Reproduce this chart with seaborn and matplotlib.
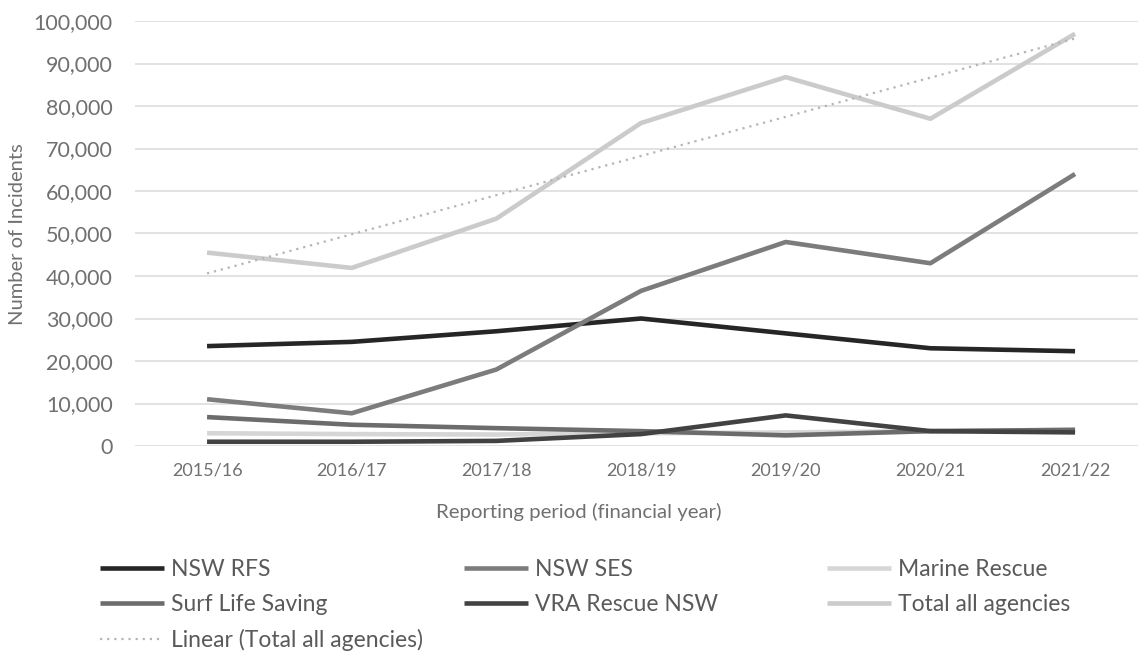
import numpy as np
import pandas as pd
import matplotlib
matplotlib.use("Agg")
import matplotlib.pyplot as plt
import seaborn as sns

periods = ["2015/16", "2016/17", "2017/18", "2018/19", "2019/20", "2020/21", "2021/22"]
nsw_rfs = [23500, 24500, 27000, 30000, 26500, 23000, 22300]
nsw_ses = [11000, 7700, 18000, 36500, 48000, 43000, 64000]
marine_rescue = [3000, 2800, 2700, 3000, 3200, 3500, 3800]
surf_life_saving = [6800, 5000, 4200, 3500, 2500, 3500, 3800]
vra_rescue = [1000, 1000, 1200, 2800, 7200, 3500, 3200]
total_all = [45500, 41900, 53500, 76000, 86800, 77000, 97000]

series_names = ["NSW RFS", "NSW SES", "Marine Rescue", "Surf Life Saving",
                "VRA Rescue NSW", "Total all agencies"]
series_values = [nsw_rfs, nsw_ses, marine_rescue, surf_life_saving, vra_rescue, total_all]
series_colors = ["#262626", "#7c7c7c", "#d6d6d6", "#6c6c6c", "#424242", "#cbcbcb"]

sns.set_style("white")
plt.rcParams["font.family"] = ["Lato", "DejaVu Sans"]

fig = plt.figure(figsize=(11.38, 6.51), dpi=100)
ax = fig.add_axes([135 / 1138, 1 - 446 / 651, 1 - 135 / 1138, (446 - 21) / 651])

for name, vals, col in zip(series_names, series_values, series_colors):
    df = pd.DataFrame({"period": periods, "value": vals})
    sns.lineplot(data=df, x="period", y="value", color=col, lw=3.3, label=name,
                 ax=ax, sort=False, solid_capstyle="butt")

# Linear trend of the total
xi = np.arange(len(periods))
coef = np.polyfit(xi, total_all, 1)
trend = np.polyval(coef, xi)
sns.lineplot(x=periods, y=trend, color="#b5b5b5", lw=1.6, ls=(0, (1, 2.2)),
             label="Linear (Total all agencies)", ax=ax, sort=False)

ax.set_ylim(0, 100000)
ax.set_xlim(-0.498, 6.435)
ax.set_yticks(np.arange(0, 100001, 10000))
ax.yaxis.set_major_formatter(matplotlib.ticker.FuncFormatter(lambda v, p: f"{int(v):,}"))
ax.grid(axis="y", color="#dadada", lw=1.1)
ax.grid(axis="x", visible=False)
ax.set_axisbelow(True)
for s in ax.spines.values():
    s.set_visible(False)
ax.tick_params(axis="y", length=0, pad=16, labelsize=15.5, labelcolor="#707070")
ax.tick_params(axis="x", length=0, pad=12, labelsize=13, labelcolor="#707070")
ax.set_xlabel("")
ax.set_ylabel("")

fig.text(18 / 1138, 1 - 234 / 651, "Number of Incidents", rotation=90,
         ha="center", va="center", fontsize=14.5, color="#707070")
fig.text(579 / 1138, 1 - 512 / 651, "Reporting period (financial year)",
         ha="center", va="center", fontsize=14.7, color="#707070")

handles, labels = ax.get_legend_handles_labels()
ax.get_legend().remove()
hmap = dict(zip(labels, handles))
cols = [["NSW RFS", "Surf Life Saving", "Linear (Total all agencies)"],
        ["NSW SES", "VRA Rescue NSW"],
        ["Marine Rescue", "Total all agencies"]]
xpos = [100, 464, 827]
for names, xp in zip(cols, xpos):
    leg = fig.legend([hmap[n] for n in names], names, loc="upper left",
                     bbox_to_anchor=(xp / 1138, 1 - 559 / 651), frameon=False,
                     fontsize=16.5, handlelength=2.8, handletextpad=0.3,
                     labelspacing=0.6, borderaxespad=0, borderpad=0)
    for t in leg.get_texts():
        t.set_color("#5a5a5a")

fig.savefig("out.png", dpi=100)
